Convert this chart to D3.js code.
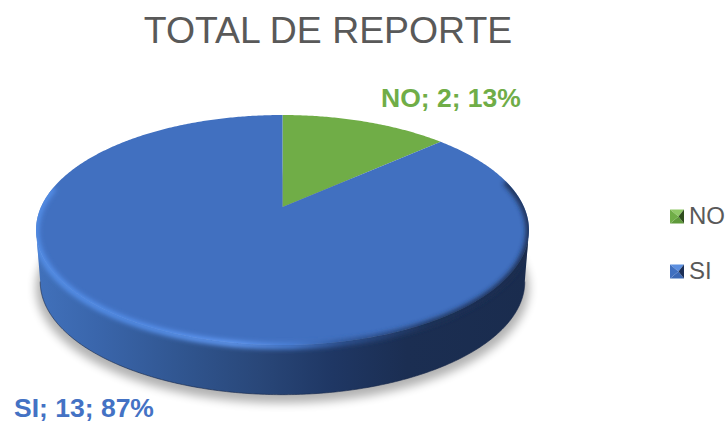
<!DOCTYPE html>
<html><head><meta charset="utf-8">
<script src="https://cdn.jsdelivr.net/npm/d3@7/dist/d3.min.js"></script>
<style>html,body{margin:0;padding:0;background:#fff}svg{display:block}</style></head>
<body><svg id="c" width="725" height="423"></svg>
<script>
const title = "TOTAL DE REPORTE";
const categories = ["NO", "SI"];
const values = [2, 13];
const percents = ["13%", "87%"];
const colors = ["#70ad47", "#4170c0"];
const labelColors = ["#70ad47", "#4472c4"];

const svg = d3.select("#c");
const defs = svg.append("defs");

// Perspective projection of the pie's unit disc onto the page
const apex = [282.5, 207], persp = 0.2, cx = 241.5, cy = 110.4;
const project = (a, dy = 0, s = 1) => {
  const u = Math.sin(a), v = Math.cos(a), w = 1 + persp * v;
  return [apex[0] + s * cx * u / w, apex[1] + dy - s * cy * v / w];
};
const sweep = (a0, a1, dy = 0, s = 1) => {
  const n = Math.max(2, Math.ceil(Math.abs(a1 - a0) / 0.01));
  return d3.range(n + 1).map(i => project(a0 + (a1 - a0) * i / n, dy, s));
};
const pathLine = d3.line();
const slices = d3.pie().sort(null).value(d => d)(values);

const makeBlur = (id, sd) => defs.append("filter").attr("id", id)
  .attr("x", "-10%").attr("y", "-10%").attr("width", "120%").attr("height", "120%")
  .append("feGaussianBlur").attr("stdDeviation", sd);
makeBlur("shadowBlur", 5); makeBlur("rimBlur", 2.4); makeBlur("swBlur", 0.4);

const hgrad = (id, stops) => {
  const g = defs.append("linearGradient").attr("id", id)
    .attr("gradientUnits", "userSpaceOnUse")
    .attr("x1", 36).attr("x2", 530).attr("y1", 0).attr("y2", 0);
  stops.forEach(([o, c]) => g.append("stop").attr("offset", o).attr("stop-color", c));
};
hgrad("wall", [[0, "#4171bb"], [0.12, "#3a66ac"], [0.3, "#30558f"], [0.45, "#294779"], [0.6, "#1f3764"], [0.75, "#1b2e52"], [1, "#1a2c4e"]]);
hgrad("rim", [[0, "#5590ea"], [0.2, "#5590ec"], [0.4, "#639cf8"], [0.52, "#4a7fd6"], [0.62, "#2f5596"], [0.8, "#1d3158"], [1, "#1a2c4e"]]);

const TAU = Math.PI * 2, depth = 52, lowScale = 0.983;

// Drop shadow under the disc
svg.append("path")
  .attr("d", pathLine(sweep(0, TAU, depth + 6, 1)) + "Z")
  .attr("fill", "#000").attr("opacity", 0.3).attr("filter", "url(#shadowBlur)");

// Side wall, between the silhouette points of the two rims
const edge = Math.acos(-persp);
const upperRim = sweep(edge, TAU - edge), lowerRim = sweep(TAU - edge, edge, depth, lowScale);
svg.append("path")
  .attr("d", pathLine(upperRim.concat(lowerRim)) + "Z")
  .attr("fill", "url(#wall)");
svg.append("path")
  .attr("d", pathLine(lowerRim))
  .attr("fill", "none").attr("stroke", "#16264a").attr("stroke-opacity", 0.6).attr("stroke-width", 1);

// Pie top face
svg.selectAll("path.slice").data(slices).join("path").attr("class", "slice")
  .attr("d", d => pathLine([apex].concat(sweep(d.startAngle, d.endAngle))) + "Z")
  .attr("fill", (d, i) => colors[i]);

// Bevel around the front rim, clipped to disc + wall
const clip = defs.append("clipPath").attr("id", "discClip");
clip.append("path").attr("d", pathLine(sweep(0, TAU)) + "Z");
clip.append("path").attr("d", pathLine(upperRim.concat(lowerRim)) + "Z");
svg.append("g").attr("clip-path", "url(#discClip)")
  .append("path")
  .attr("d", pathLine(sweep(Math.PI * 0.42, Math.PI * 1.56, 1)))
  .attr("fill", "none").attr("stroke", "url(#rim)").attr("stroke-width", 6)
  .attr("filter", "url(#rimBlur)");

// Title
const FONT = "'Liberation Sans', Arial, sans-serif";
svg.append("text").attr("x", 328).attr("y", 42.5).attr("text-anchor", "middle")
  .attr("font-family", FONT).attr("font-size", 37.4).attr("fill", "#595959").text(title);

// Data labels
const labelPos = [[381, 107], [14, 417]];
svg.selectAll("text.lab").data(categories).join("text").attr("class", "lab")
  .attr("x", (d, i) => labelPos[i][0]).attr("y", (d, i) => labelPos[i][1])
  .attr("font-family", FONT).attr("font-size", 26.5).attr("font-weight", 700)
  .attr("fill", (d, i) => labelColors[i])
  .text((d, i) => `${d}; ${values[i]}; ${percents[i]}`);

// Legend
const legendY = d3.scalePoint().domain(categories).range([216.5, 271.5]);
const darks = ["#2f4d1e", "#1a2e55"], lights = ["#8fc866", "#5b8fe0"], mids = ["#5f9a3a", "#3b68b5"];
const leg = svg.selectAll("g.leg").data(categories).join("g").attr("class", "leg")
  .attr("transform", d => `translate(670,${legendY(d)})`);
const x0 = 0, x1 = 14, y0 = -7, y1 = 7, xc = 8.5;
const tri = (pts) => pathLine(pts) + "Z";
const sw = leg.append("g").attr("filter", "url(#swBlur)");
sw.append("path").attr("d", tri([[x0, y0], [x1, y0], [xc, 0]])).attr("fill", (d, i) => lights[i]);
sw.append("path").attr("d", tri([[x0, y1], [x1, y1], [xc, 0]])).attr("fill", (d, i) => mids[i]);
sw.append("path").attr("d", tri([[x0, y0], [x0, y1], [xc, 0]])).attr("fill", (d, i) => colors[i]);
sw.append("path").attr("d", tri([[x1, y0], [x1, y1], [xc, 0]])).attr("fill", (d, i) => darks[i]);
leg.append("text").attr("x", 19).attr("y", 7.5).attr("font-family", FONT)
  .attr("font-size", 24).attr("fill", "#595959").text(d => d);
</script></body></html>
